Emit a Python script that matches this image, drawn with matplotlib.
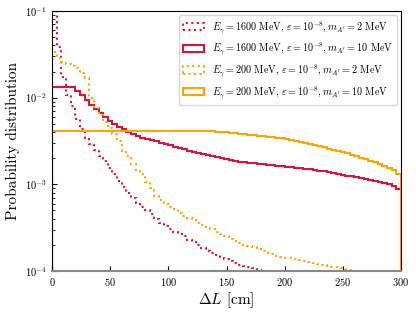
import numpy as np
import matplotlib
matplotlib.use('Agg')
import matplotlib.pyplot as plt

plt.rcParams['font.family'] = 'serif'
plt.rcParams['font.serif'] = ['cmr10']
plt.rcParams['mathtext.fontset'] = 'cm'
plt.rcParams['axes.formatter.use_mathtext'] = True

# 75 bins of 4 cm between 0 and 300 cm
bin_edges = np.linspace(0, 300, 76)

# E = 1600 MeV, m = 2 MeV (dotted red)
p_1600_2 = [
    3.0e-1, 3.85e-2, 1.74e-2, 1.07e-2, 8.0e-3, 5.6e-3, 4.3e-3, 3.45e-3, 2.9e-3, 2.5e-3,
    2.15e-3, 1.85e-3, 1.55e-3, 1.3e-3, 1.1e-3, 9.3e-4, 8.0e-4, 7.0e-4, 6.1e-4, 5.5e-4,
    5.0e-4, 4.5e-4, 4.0e-4, 3.6e-4, 3.3e-4, 3.05e-4, 2.85e-4, 2.65e-4, 2.5e-4, 2.3e-4,
    2.15e-4, 2.0e-4, 1.85e-4, 1.72e-4, 1.62e-4, 1.52e-4, 1.45e-4, 1.38e-4, 1.3e-4, 1.22e-4,
    1.17e-4, 1.13e-4, 1.1e-4, 1.07e-4, 1.03e-4, 9.6e-5, 9.2e-5, 8.8e-5, 8.4e-5, 8.1e-5,
    7.8e-5, 7.5e-5, 7.2e-5, 6.9e-5, 6.6e-5, 6.4e-5, 6.2e-5, 6.0e-5, 5.8e-5, 5.6e-5,
    5.4e-5, 5.2e-5, 5.0e-5, 4.8e-5, 4.6e-5, 4.4e-5, 4.2e-5, 4.0e-5, 3.8e-5, 3.6e-5,
    3.4e-5, 3.2e-5, 3.0e-5, 2.8e-5, 2.6e-5,
]

# E = 1600 MeV, m = 10 MeV (solid red)
p_1600_10 = [
    1.33e-2, 1.33e-2, 1.33e-2, 1.33e-2, 1.33e-2, 1.2e-2, 1.07e-2, 9.4e-3, 8.2e-3, 7.4e-3,
    6.6e-3, 6.0e-3, 5.4e-3, 5.0e-3, 4.6e-3, 4.3e-3, 4.05e-3, 3.8e-3, 3.6e-3, 3.45e-3,
    3.33e-3, 3.22e-3, 3.12e-3, 3.02e-3, 2.92e-3, 2.82e-3, 2.72e-3, 2.62e-3, 2.53e-3, 2.45e-3,
    2.38e-3, 2.32e-3, 2.26e-3, 2.2e-3, 2.14e-3, 2.08e-3, 2.03e-3, 1.98e-3, 1.93e-3, 1.87e-3,
    1.82e-3, 1.8e-3, 1.78e-3, 1.75e-3, 1.73e-3, 1.71e-3, 1.69e-3, 1.66e-3, 1.64e-3, 1.62e-3,
    1.6e-3, 1.58e-3, 1.56e-3, 1.54e-3, 1.52e-3, 1.5e-3, 1.47e-3, 1.44e-3, 1.41e-3, 1.38e-3,
    1.35e-3, 1.32e-3, 1.29e-3, 1.26e-3, 1.24e-3, 1.21e-3, 1.18e-3, 1.16e-3, 1.13e-3, 1.1e-3,
    1.07e-3, 1.04e-3, 1.01e-3, 9.6e-4, 8.8e-4,
]

# E = 200 MeV, m = 2 MeV (dotted orange)
p_200_2 = [
    3.37e-2, 2.87e-2, 2.58e-2, 2.45e-2, 2.32e-2, 2.2e-2, 1.95e-2, 1.7e-2, 1.0e-2, 7.6e-3,
    6.3e-3, 5.2e-3, 4.5e-3, 3.8e-3, 3.16e-3, 2.43e-3, 2.12e-3, 1.72e-3, 1.46e-3, 1.32e-3,
    1.07e-3, 9.1e-4, 7.4e-4, 6.6e-4, 6.0e-4, 5.5e-4, 5.15e-4, 4.7e-4, 4.35e-4, 4.1e-4,
    3.85e-4, 3.6e-4, 3.4e-4, 3.22e-4, 3.02e-4, 2.84e-4, 2.65e-4, 2.5e-4, 2.35e-4, 2.22e-4,
    2.1e-4, 2.02e-4, 1.95e-4, 1.9e-4, 1.84e-4, 1.72e-4, 1.62e-4, 1.55e-4, 1.5e-4, 1.46e-4,
    1.42e-4, 1.4e-4, 1.37e-4, 1.33e-4, 1.3e-4, 1.27e-4, 1.24e-4, 1.2e-4, 1.17e-4, 1.15e-4,
    1.12e-4, 1.1e-4, 1.08e-4, 1.05e-4, 1.02e-4, 9.6e-5, 9.2e-5, 8.9e-5, 8.6e-5, 8.3e-5,
    8.0e-5, 7.6e-5, 7.2e-5, 6.8e-5, 6.2e-5,
]

# E = 200 MeV, m = 10 MeV (solid orange)
p_200_10 = [
    4.15e-3, 4.13e-3, 4.14e-3, 4.12e-3, 4.13e-3, 4.12e-3, 4.11e-3, 4.12e-3, 4.11e-3, 4.12e-3,
    4.11e-3, 4.12e-3, 4.10e-3, 4.11e-3, 4.12e-3, 4.10e-3, 4.11e-3, 4.10e-3, 4.11e-3, 4.10e-3,
    4.10e-3, 4.11e-3, 4.10e-3, 4.09e-3, 4.10e-3, 4.10e-3, 4.09e-3, 4.10e-3, 4.09e-3, 4.09e-3,
    4.09e-3, 4.08e-3, 4.09e-3, 4.08e-3, 4.07e-3, 4.05e-3, 4.02e-3, 3.98e-3, 3.95e-3, 3.90e-3,
    3.85e-3, 3.80e-3, 3.75e-3, 3.70e-3, 3.65e-3, 3.60e-3, 3.55e-3, 3.50e-3, 3.45e-3, 3.38e-3,
    3.30e-3, 3.23e-3, 3.16e-3, 3.08e-3, 3.00e-3, 2.92e-3, 2.84e-3, 2.76e-3, 2.68e-3, 2.58e-3,
    2.50e-3, 2.43e-3, 2.35e-3, 2.27e-3, 2.19e-3, 2.11e-3, 2.03e-3, 1.95e-3, 1.88e-3, 1.80e-3,
    1.72e-3, 1.64e-3, 1.55e-3, 1.45e-3, 1.32e-3,
]

labels = [
    r"$E_\gamma = 1600$ MeV, $\varepsilon = 10^{-8}, m_{A'} = 2$ MeV",
    r"$E_\gamma = 1600$ MeV, $\varepsilon = 10^{-8}, m_{A'} = 10$ MeV",
    r"$E_\gamma = 200$ MeV, $\varepsilon = 10^{-8}, m_{A'} = 2$ MeV",
    r"$E_\gamma = 200$ MeV, $\varepsilon = 10^{-8}, m_{A'} = 10$ MeV",
]

centers = 0.5 * (bin_edges[:-1] + bin_edges[1:])
red = '#dc143c'
orange = '#ffa500'

fig = plt.figure(figsize=(4.16, 3.14), dpi=100)
ax = fig.add_axes([0.125, 0.137, 0.839, 0.828])

ax.hist(centers, bins=bin_edges, weights=p_1600_2, histtype='step', log=True,
        color=red, linestyle=':', linewidth=1.5, label=labels[0])
ax.hist(centers, bins=bin_edges, weights=p_1600_10, histtype='step', log=True,
        color=red, linewidth=1.5, label=labels[1])
ax.hist(centers, bins=bin_edges, weights=p_200_2, histtype='step', log=True,
        color=orange, linestyle=':', linewidth=1.5, label=labels[2])
ax.hist(centers, bins=bin_edges, weights=p_200_10, histtype='step', log=True,
        color=orange, linewidth=1.5, label=labels[3])

ax.set_xlim(0, 300)
ax.set_ylim(1e-4, 1e-1)
ax.set_xticks([0, 50, 100, 150, 200, 250, 300])
ax.tick_params(which='both', direction='in', labelsize=7.5)
ax.spines['bottom'].set_color('#888888')
ax.spines['bottom'].set_linewidth(1.5)

ax.set_xlabel(r"$\Delta L$ [cm]", fontsize=11, labelpad=2)
ax.set_ylabel("Probability distribution", fontsize=11, labelpad=4)
ax.legend(loc='upper right', fontsize=7.3, borderaxespad=0.4)

fig.savefig('out.png', dpi=100)
